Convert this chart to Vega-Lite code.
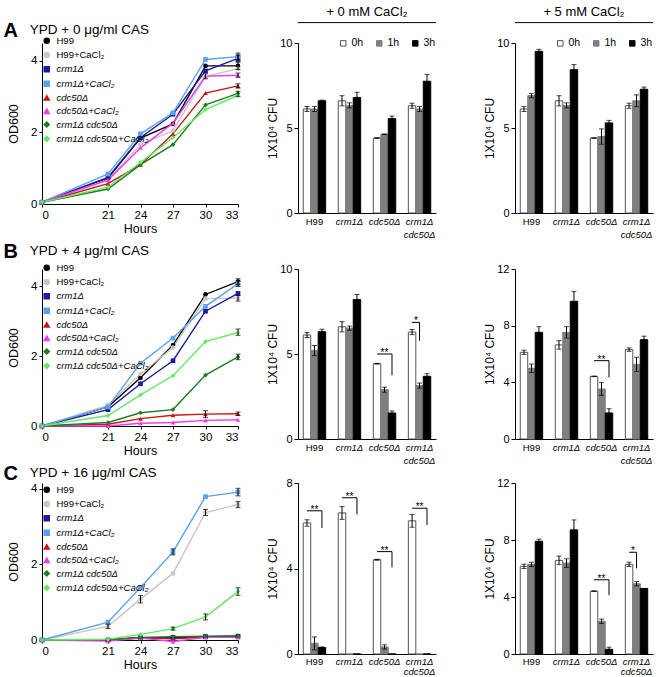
{
"$schema": "https://vega.github.io/schema/vega-lite/v6.json",
"background": "white",
"padding": {"left": 3, "top": 6, "right": 2, "bottom": 0},
"config": {
 "font": "Liberation Sans",
 "view": {"stroke": null},
 "axis": {"grid": false, "domainColor": "#000", "tickColor": "#000", "labelColor": "#000", "titleColor": "#000", "titleFontWeight": "normal", "labelFontSize": 11, "titleFontSize": 12, "tickSize": 3, "labelPadding": 2},
 "legend": {"labelColor": "#000", "padding": 0},
 "title": {"color": "#000"}
},
"datasets": {
 "lines": [
  {"c":0,"s":"H99","h":0,"v":0.05},{"c":0,"s":"H99","h":21,"v":0.72},{"c":0,"s":"H99","h":24,"v":1.84},{"c":0,"s":"H99","h":27,"v":2.24},{"c":0,"s":"H99","h":30,"v":3.86},{"c":0,"s":"H99","h":33,"v":3.86,"lo":3.76,"hi":3.96},
  {"c":0,"s":"H99+CaCl₂","h":0,"v":0.05},{"c":0,"s":"H99+CaCl₂","h":21,"v":0.68},{"c":0,"s":"H99+CaCl₂","h":24,"v":1.66},{"c":0,"s":"H99+CaCl₂","h":27,"v":2.05},{"c":0,"s":"H99+CaCl₂","h":30,"v":3.57},{"c":0,"s":"H99+CaCl₂","h":33,"v":3.78},
  {"c":0,"s":"crm1Δ","h":0,"v":0.05},{"c":0,"s":"crm1Δ","h":21,"v":0.74},{"c":0,"s":"crm1Δ","h":24,"v":1.86},{"c":0,"s":"crm1Δ","h":27,"v":2.51},{"c":0,"s":"crm1Δ","h":30,"v":3.72},{"c":0,"s":"crm1Δ","h":33,"v":4.07,"lo":3.98,"hi":4.16},
  {"c":0,"s":"crm1Δ+CaCl₂","h":0,"v":0.05},{"c":0,"s":"crm1Δ+CaCl₂","h":21,"v":0.84},{"c":0,"s":"crm1Δ+CaCl₂","h":24,"v":1.96},{"c":0,"s":"crm1Δ+CaCl₂","h":27,"v":2.55},{"c":0,"s":"crm1Δ+CaCl₂","h":30,"v":4.04},{"c":0,"s":"crm1Δ+CaCl₂","h":33,"v":4.12,"lo":4.02,"hi":4.22},
  {"c":0,"s":"cdc50Δ","h":0,"v":0.05},{"c":0,"s":"cdc50Δ","h":21,"v":0.57},{"c":0,"s":"cdc50Δ","h":24,"v":1.1},{"c":0,"s":"cdc50Δ","h":27,"v":1.96},{"c":0,"s":"cdc50Δ","h":30,"v":3.1},{"c":0,"s":"cdc50Δ","h":33,"v":3.3,"lo":3.24,"hi":3.36},
  {"c":0,"s":"cdc50Δ+CaCl₂","h":0,"v":0.05},{"c":0,"s":"cdc50Δ+CaCl₂","h":21,"v":0.67},{"c":0,"s":"cdc50Δ+CaCl₂","h":24,"v":1.57},{"c":0,"s":"cdc50Δ+CaCl₂","h":27,"v":2.26},{"c":0,"s":"cdc50Δ+CaCl₂","h":30,"v":3.57,"lo":3.5,"hi":3.64},{"c":0,"s":"cdc50Δ+CaCl₂","h":33,"v":3.6,"lo":3.54,"hi":3.66},
  {"c":0,"s":"crm1Δ cdc50Δ","h":0,"v":0.05},{"c":0,"s":"crm1Δ cdc50Δ","h":21,"v":0.42},{"c":0,"s":"crm1Δ cdc50Δ","h":24,"v":1.1},{"c":0,"s":"crm1Δ cdc50Δ","h":27,"v":1.66},{"c":0,"s":"crm1Δ cdc50Δ","h":30,"v":2.77},{"c":0,"s":"crm1Δ cdc50Δ","h":33,"v":3.09,"lo":3.0,"hi":3.15},
  {"c":0,"s":"crm1Δ cdc50Δ+CaCl₂","h":0,"v":0.05},{"c":0,"s":"crm1Δ cdc50Δ+CaCl₂","h":21,"v":0.47},{"c":0,"s":"crm1Δ cdc50Δ+CaCl₂","h":24,"v":1.16},{"c":0,"s":"crm1Δ cdc50Δ+CaCl₂","h":27,"v":1.86},{"c":0,"s":"crm1Δ cdc50Δ+CaCl₂","h":30,"v":2.64},{"c":0,"s":"crm1Δ cdc50Δ+CaCl₂","h":33,"v":3.04},

  {"c":4,"s":"H99","h":0,"v":0},{"c":4,"s":"H99","h":21,"v":0.55},{"c":4,"s":"H99","h":24,"v":1.38},{"c":4,"s":"H99","h":27,"v":2.32},{"c":4,"s":"H99","h":30,"v":3.77},{"c":4,"s":"H99","h":33,"v":4.14,"lo":4.06,"hi":4.22},
  {"c":4,"s":"H99+CaCl₂","h":0,"v":0},{"c":4,"s":"H99+CaCl₂","h":21,"v":0.6},{"c":4,"s":"H99+CaCl₂","h":24,"v":1.49},{"c":4,"s":"H99+CaCl₂","h":27,"v":2.25},{"c":4,"s":"H99+CaCl₂","h":30,"v":3.65},{"c":4,"s":"H99+CaCl₂","h":33,"v":3.66,"lo":3.58,"hi":3.74},
  {"c":4,"s":"crm1Δ","h":0,"v":0},{"c":4,"s":"crm1Δ","h":21,"v":0.47},{"c":4,"s":"crm1Δ","h":24,"v":1.21},{"c":4,"s":"crm1Δ","h":27,"v":1.87},{"c":4,"s":"crm1Δ","h":30,"v":3.29},{"c":4,"s":"crm1Δ","h":33,"v":3.8},
  {"c":4,"s":"crm1Δ+CaCl₂","h":0,"v":0},{"c":4,"s":"crm1Δ+CaCl₂","h":21,"v":0.55},{"c":4,"s":"crm1Δ+CaCl₂","h":24,"v":1.8},{"c":4,"s":"crm1Δ+CaCl₂","h":27,"v":2.52},{"c":4,"s":"crm1Δ+CaCl₂","h":30,"v":3.43},{"c":4,"s":"crm1Δ+CaCl₂","h":33,"v":4.08,"lo":4.0,"hi":4.16},
  {"c":4,"s":"cdc50Δ","h":0,"v":0},{"c":4,"s":"cdc50Δ","h":21,"v":0.05},{"c":4,"s":"cdc50Δ","h":24,"v":0.21},{"c":4,"s":"cdc50Δ","h":27,"v":0.31},{"c":4,"s":"cdc50Δ","h":30,"v":0.34,"lo":0.24,"hi":0.44},{"c":4,"s":"cdc50Δ","h":33,"v":0.35,"lo":0.3,"hi":0.4},
  {"c":4,"s":"cdc50Δ+CaCl₂","h":0,"v":0},{"c":4,"s":"cdc50Δ+CaCl₂","h":21,"v":0.0},{"c":4,"s":"cdc50Δ+CaCl₂","h":24,"v":0.08},{"c":4,"s":"cdc50Δ+CaCl₂","h":27,"v":0.1},{"c":4,"s":"cdc50Δ+CaCl₂","h":30,"v":0.16},{"c":4,"s":"cdc50Δ+CaCl₂","h":33,"v":0.18},
  {"c":4,"s":"crm1Δ cdc50Δ","h":0,"v":0},{"c":4,"s":"crm1Δ cdc50Δ","h":21,"v":0.1},{"c":4,"s":"crm1Δ cdc50Δ","h":24,"v":0.38},{"c":4,"s":"crm1Δ cdc50Δ","h":27,"v":0.47},{"c":4,"s":"crm1Δ cdc50Δ","h":30,"v":1.46},{"c":4,"s":"crm1Δ cdc50Δ","h":33,"v":1.98,"lo":1.9,"hi":2.06},
  {"c":4,"s":"crm1Δ cdc50Δ+CaCl₂","h":0,"v":0},{"c":4,"s":"crm1Δ cdc50Δ+CaCl₂","h":21,"v":0.3},{"c":4,"s":"crm1Δ cdc50Δ+CaCl₂","h":24,"v":0.89},{"c":4,"s":"crm1Δ cdc50Δ+CaCl₂","h":27,"v":1.44},{"c":4,"s":"crm1Δ cdc50Δ+CaCl₂","h":30,"v":2.42},{"c":4,"s":"crm1Δ cdc50Δ+CaCl₂","h":33,"v":2.68,"lo":2.6,"hi":2.78},

  {"c":16,"s":"H99","h":0,"v":0},{"c":16,"s":"H99","h":21,"v":0},{"c":16,"s":"H99","h":24,"v":0.06},{"c":16,"s":"H99","h":27,"v":0.06},{"c":16,"s":"H99","h":30,"v":0.09},{"c":16,"s":"H99","h":33,"v":0.1},
  {"c":16,"s":"H99+CaCl₂","h":0,"v":0},{"c":16,"s":"H99+CaCl₂","h":21,"v":0.36,"lo":0.3,"hi":0.42},{"c":16,"s":"H99+CaCl₂","h":24,"v":1.08,"lo":0.98,"hi":1.18},{"c":16,"s":"H99+CaCl₂","h":27,"v":1.76},{"c":16,"s":"H99+CaCl₂","h":30,"v":3.37,"lo":3.29,"hi":3.45},{"c":16,"s":"H99+CaCl₂","h":33,"v":3.58,"lo":3.5,"hi":3.66},
  {"c":16,"s":"crm1Δ","h":0,"v":0},{"c":16,"s":"crm1Δ","h":21,"v":0},{"c":16,"s":"crm1Δ","h":24,"v":0.06},{"c":16,"s":"crm1Δ","h":27,"v":0.07},{"c":16,"s":"crm1Δ","h":30,"v":0.09},{"c":16,"s":"crm1Δ","h":33,"v":0.1},
  {"c":16,"s":"crm1Δ+CaCl₂","h":0,"v":0},{"c":16,"s":"crm1Δ+CaCl₂","h":21,"v":0.47},{"c":16,"s":"crm1Δ+CaCl₂","h":24,"v":1.39},{"c":16,"s":"crm1Δ+CaCl₂","h":27,"v":2.33,"lo":2.25,"hi":2.41},{"c":16,"s":"crm1Δ+CaCl₂","h":30,"v":3.79},{"c":16,"s":"crm1Δ+CaCl₂","h":33,"v":3.91,"lo":3.81,"hi":4.01},
  {"c":16,"s":"cdc50Δ","h":0,"v":0},{"c":16,"s":"cdc50Δ","h":21,"v":0},{"c":16,"s":"cdc50Δ","h":24,"v":0.06},{"c":16,"s":"cdc50Δ","h":27,"v":0.03},{"c":16,"s":"cdc50Δ","h":30,"v":0.08},{"c":16,"s":"cdc50Δ","h":33,"v":0.09},
  {"c":16,"s":"cdc50Δ+CaCl₂","h":0,"v":0},{"c":16,"s":"cdc50Δ+CaCl₂","h":21,"v":-0.03},{"c":16,"s":"cdc50Δ+CaCl₂","h":24,"v":0.05},{"c":16,"s":"cdc50Δ+CaCl₂","h":27,"v":-0.04},{"c":16,"s":"cdc50Δ+CaCl₂","h":30,"v":0.07},{"c":16,"s":"cdc50Δ+CaCl₂","h":33,"v":0.07},
  {"c":16,"s":"crm1Δ cdc50Δ","h":0,"v":0},{"c":16,"s":"crm1Δ cdc50Δ","h":21,"v":0.01},{"c":16,"s":"crm1Δ cdc50Δ","h":24,"v":0.07},{"c":16,"s":"crm1Δ cdc50Δ","h":27,"v":0.09},{"c":16,"s":"crm1Δ cdc50Δ","h":30,"v":0.1},{"c":16,"s":"crm1Δ cdc50Δ","h":33,"v":0.1},
  {"c":16,"s":"crm1Δ cdc50Δ+CaCl₂","h":0,"v":0},{"c":16,"s":"crm1Δ cdc50Δ+CaCl₂","h":21,"v":0.02},{"c":16,"s":"crm1Δ cdc50Δ+CaCl₂","h":24,"v":0.15},{"c":16,"s":"crm1Δ cdc50Δ+CaCl₂","h":27,"v":0.3,"lo":0.26,"hi":0.34},{"c":16,"s":"crm1Δ cdc50Δ+CaCl₂","h":30,"v":0.61,"lo":0.53,"hi":0.69},{"c":16,"s":"crm1Δ cdc50Δ+CaCl₂","h":33,"v":1.28,"lo":1.18,"hi":1.38}
 ],
 "bars": [
  {"c":0,"m":0,"s":"H99","t":"0h","v":6.12,"lo":5.97,"hi":6.27},{"c":0,"m":0,"s":"H99","t":"1h","v":6.12,"lo":5.97,"hi":6.27},{"c":0,"m":0,"s":"H99","t":"3h","v":6.6,"lo":6.56,"hi":6.64},
  {"c":0,"m":0,"s":"crm1Δ","t":"0h","v":6.6,"lo":6.3,"hi":6.9},{"c":0,"m":0,"s":"crm1Δ","t":"1h","v":6.33,"lo":6.18,"hi":6.48},{"c":0,"m":0,"s":"crm1Δ","t":"3h","v":6.8,"lo":6.5,"hi":7.1},
  {"c":0,"m":0,"s":"cdc50Δ","t":"0h","v":4.41,"lo":4.39,"hi":4.43},{"c":0,"m":0,"s":"cdc50Δ","t":"1h","v":4.63,"lo":4.61,"hi":4.65},{"c":0,"m":0,"s":"cdc50Δ","t":"3h","v":5.55,"lo":5.4,"hi":5.7},
  {"c":0,"m":0,"s":"crm1Δ cdc50Δ","t":"0h","v":6.31,"lo":6.16,"hi":6.46},{"c":0,"m":0,"s":"crm1Δ cdc50Δ","t":"1h","v":6.12,"lo":5.97,"hi":6.27},{"c":0,"m":0,"s":"crm1Δ cdc50Δ","t":"3h","v":7.75,"lo":7.35,"hi":8.15},
  {"c":0,"m":5,"s":"H99","t":"0h","v":6.12,"lo":5.97,"hi":6.27},{"c":0,"m":5,"s":"H99","t":"1h","v":6.9,"lo":6.78,"hi":7.02},{"c":0,"m":5,"s":"H99","t":"3h","v":9.51,"lo":9.39,"hi":9.63},
  {"c":0,"m":5,"s":"crm1Δ","t":"0h","v":6.6,"lo":6.3,"hi":6.9},{"c":0,"m":5,"s":"crm1Δ","t":"1h","v":6.33,"lo":6.18,"hi":6.48},{"c":0,"m":5,"s":"crm1Δ","t":"3h","v":8.43,"lo":8.13,"hi":8.73},
  {"c":0,"m":5,"s":"cdc50Δ","t":"0h","v":4.41,"lo":4.39,"hi":4.43},{"c":0,"m":5,"s":"cdc50Δ","t":"1h","v":4.5,"lo":4.05,"hi":4.95},{"c":0,"m":5,"s":"cdc50Δ","t":"3h","v":5.3,"lo":5.15,"hi":5.45},
  {"c":0,"m":5,"s":"crm1Δ cdc50Δ","t":"0h","v":6.31,"lo":6.16,"hi":6.46},{"c":0,"m":5,"s":"crm1Δ cdc50Δ","t":"1h","v":6.6,"lo":6.25,"hi":6.95},{"c":0,"m":5,"s":"crm1Δ cdc50Δ","t":"3h","v":7.28,"lo":7.15,"hi":7.41},
  {"c":4,"m":0,"s":"H99","t":"0h","v":6.12,"lo":5.97,"hi":6.27},{"c":4,"m":0,"s":"H99","t":"1h","v":5.2,"lo":4.9,"hi":5.5},{"c":4,"m":0,"s":"H99","t":"3h","v":6.31,"lo":6.16,"hi":6.46},
  {"c":4,"m":0,"s":"crm1Δ","t":"0h","v":6.6,"lo":6.3,"hi":6.9},{"c":4,"m":0,"s":"crm1Δ","t":"1h","v":6.52,"lo":6.4,"hi":6.64},{"c":4,"m":0,"s":"crm1Δ","t":"3h","v":8.2,"lo":7.9,"hi":8.5},
  {"c":4,"m":0,"s":"cdc50Δ","t":"0h","v":4.43,"lo":4.41,"hi":4.45},{"c":4,"m":0,"s":"cdc50Δ","t":"1h","v":2.9,"lo":2.75,"hi":3.05},{"c":4,"m":0,"s":"cdc50Δ","t":"3h","v":1.53,"lo":1.41,"hi":1.65},
  {"c":4,"m":0,"s":"crm1Δ cdc50Δ","t":"0h","v":6.29,"lo":6.14,"hi":6.44},{"c":4,"m":0,"s":"crm1Δ cdc50Δ","t":"1h","v":3.14,"lo":2.99,"hi":3.29},{"c":4,"m":0,"s":"crm1Δ cdc50Δ","t":"3h","v":3.69,"lo":3.54,"hi":3.84},
  {"c":4,"m":5,"s":"H99","t":"0h","v":6.12,"lo":5.97,"hi":6.27},{"c":4,"m":5,"s":"H99","t":"1h","v":4.99,"lo":4.69,"hi":5.29},{"c":4,"m":5,"s":"H99","t":"3h","v":7.53,"lo":7.13,"hi":7.93},
  {"c":4,"m":5,"s":"crm1Δ","t":"0h","v":6.64,"lo":6.34,"hi":6.94},{"c":4,"m":5,"s":"crm1Δ","t":"1h","v":7.53,"lo":7.13,"hi":7.93},{"c":4,"m":5,"s":"crm1Δ","t":"3h","v":9.72,"lo":9.02,"hi":10.42},
  {"c":4,"m":5,"s":"cdc50Δ","t":"0h","v":4.42,"lo":4.4,"hi":4.44},{"c":4,"m":5,"s":"cdc50Δ","t":"1h","v":3.53,"lo":3.08,"hi":3.98},{"c":4,"m":5,"s":"cdc50Δ","t":"3h","v":1.84,"lo":1.54,"hi":2.14},
  {"c":4,"m":5,"s":"crm1Δ cdc50Δ","t":"0h","v":6.31,"lo":6.19,"hi":6.43},{"c":4,"m":5,"s":"crm1Δ cdc50Δ","t":"1h","v":5.27,"lo":4.77,"hi":5.77},{"c":4,"m":5,"s":"crm1Δ cdc50Δ","t":"3h","v":7.01,"lo":6.76,"hi":7.26},
  {"c":16,"m":0,"s":"H99","t":"0h","v":6.13,"lo":5.98,"hi":6.28},{"c":16,"m":0,"s":"H99","t":"1h","v":0.5,"lo":0.2,"hi":0.8},{"c":16,"m":0,"s":"H99","t":"3h","v":0.3,"lo":0.27,"hi":0.33},
  {"c":16,"m":0,"s":"crm1Δ","t":"0h","v":6.6,"lo":6.3,"hi":6.9},{"c":16,"m":0,"s":"crm1Δ","t":"1h","v":0},{"c":16,"m":0,"s":"crm1Δ","t":"3h","v":0},
  {"c":16,"m":0,"s":"cdc50Δ","t":"0h","v":4.41,"lo":4.39,"hi":4.43},{"c":16,"m":0,"s":"cdc50Δ","t":"1h","v":0.33,"lo":0.23,"hi":0.43},{"c":16,"m":0,"s":"cdc50Δ","t":"3h","v":0},
  {"c":16,"m":0,"s":"crm1Δ cdc50Δ","t":"0h","v":6.23,"lo":5.93,"hi":6.53},{"c":16,"m":0,"s":"crm1Δ cdc50Δ","t":"1h","v":0},{"c":16,"m":0,"s":"crm1Δ cdc50Δ","t":"3h","v":0},
  {"c":16,"m":5,"s":"H99","t":"0h","v":6.15,"lo":6.0,"hi":6.3},{"c":16,"m":5,"s":"H99","t":"1h","v":6.29,"lo":6.14,"hi":6.44},{"c":16,"m":5,"s":"H99","t":"3h","v":7.91,"lo":7.76,"hi":8.06},
  {"c":16,"m":5,"s":"crm1Δ","t":"0h","v":6.57,"lo":6.27,"hi":6.87},{"c":16,"m":5,"s":"crm1Δ","t":"1h","v":6.38,"lo":6.08,"hi":6.68},{"c":16,"m":5,"s":"crm1Δ","t":"3h","v":8.71,"lo":8.01,"hi":9.41},
  {"c":16,"m":5,"s":"cdc50Δ","t":"0h","v":4.41,"lo":4.39,"hi":4.43},{"c":16,"m":5,"s":"cdc50Δ","t":"1h","v":2.3,"lo":2.15,"hi":2.45},{"c":16,"m":5,"s":"cdc50Δ","t":"3h","v":0.33,"lo":0.18,"hi":0.48},
  {"c":16,"m":5,"s":"crm1Δ cdc50Δ","t":"0h","v":6.29,"lo":6.14,"hi":6.44},{"c":16,"m":5,"s":"crm1Δ cdc50Δ","t":"1h","v":4.93,"lo":4.78,"hi":5.08},{"c":16,"m":5,"s":"crm1Δ cdc50Δ","t":"3h","v":4.6}
 ],
 "brackets": [
  {"c":4,"m":0,"b":"b1","s":"cdc50Δ","t":"0h","v":5.0,"o":0},{"c":4,"m":0,"b":"b1","s":"cdc50Δ","t":"3h","v":5.0,"o":1},{"c":4,"m":0,"b":"b1","s":"cdc50Δ","t":"3h","v":3.75,"o":2},
  {"c":4,"m":0,"b":"b2","s":"crm1Δ cdc50Δ","t":"0h","v":6.86,"o":0},{"c":4,"m":0,"b":"b2","s":"crm1Δ cdc50Δ","t":"1h","v":6.86,"o":1},{"c":4,"m":0,"b":"b2","s":"crm1Δ cdc50Δ","t":"1h","v":5.78,"o":2},
  {"c":4,"m":5,"b":"b3","s":"cdc50Δ","t":"0h","v":5.53,"o":0},{"c":4,"m":5,"b":"b3","s":"cdc50Δ","t":"3h","v":5.53,"o":1},{"c":4,"m":5,"b":"b3","s":"cdc50Δ","t":"3h","v":4.35,"o":2},
  {"c":16,"m":0,"b":"b4","s":"H99","t":"0h","v":6.7,"o":0},{"c":16,"m":0,"b":"b4","s":"H99","t":"3h","v":6.7,"o":1},{"c":16,"m":0,"b":"b4","s":"H99","t":"3h","v":5.9,"o":2},
  {"c":16,"m":0,"b":"b5","s":"crm1Δ","t":"0h","v":7.31,"o":0},{"c":16,"m":0,"b":"b5","s":"crm1Δ","t":"3h","v":7.31,"o":1},{"c":16,"m":0,"b":"b5","s":"crm1Δ","t":"3h","v":6.53,"o":2},
  {"c":16,"m":0,"b":"b6","s":"cdc50Δ","t":"0h","v":4.79,"o":0},{"c":16,"m":0,"b":"b6","s":"cdc50Δ","t":"3h","v":4.79,"o":1},{"c":16,"m":0,"b":"b6","s":"cdc50Δ","t":"3h","v":4.05,"o":2},
  {"c":16,"m":0,"b":"b7","s":"crm1Δ cdc50Δ","t":"0h","v":6.82,"o":0},{"c":16,"m":0,"b":"b7","s":"crm1Δ cdc50Δ","t":"3h","v":6.82,"o":1},{"c":16,"m":0,"b":"b7","s":"crm1Δ cdc50Δ","t":"3h","v":6.04,"o":2},
  {"c":16,"m":5,"b":"b8","s":"cdc50Δ","t":"0h","v":5.21,"o":0},{"c":16,"m":5,"b":"b8","s":"cdc50Δ","t":"3h","v":5.21,"o":1},{"c":16,"m":5,"b":"b8","s":"cdc50Δ","t":"3h","v":4.13,"o":2},
  {"c":16,"m":5,"b":"b9","s":"crm1Δ cdc50Δ","t":"0h","v":7.14,"o":0},{"c":16,"m":5,"b":"b9","s":"crm1Δ cdc50Δ","t":"1h","v":7.14,"o":1},{"c":16,"m":5,"b":"b9","s":"crm1Δ cdc50Δ","t":"1h","v":6.01,"o":2}
 ],
 "stars": [
  {"c":4,"m":0,"s":"cdc50Δ","t":"1h","v":5.0,"lab":"**"},{"c":4,"m":0,"s":"crm1Δ cdc50Δ","t":"0h","v":6.86,"lab":"*"},
  {"c":4,"m":5,"s":"cdc50Δ","t":"1h","v":5.53,"lab":"**"},
  {"c":16,"m":0,"s":"H99","t":"1h","v":6.7,"lab":"**"},{"c":16,"m":0,"s":"crm1Δ","t":"1h","v":7.31,"lab":"**"},{"c":16,"m":0,"s":"cdc50Δ","t":"1h","v":4.79,"lab":"**"},{"c":16,"m":0,"s":"crm1Δ cdc50Δ","t":"1h","v":6.82,"lab":"**"},
  {"c":16,"m":5,"s":"cdc50Δ","t":"1h","v":5.21,"lab":"**"},{"c":16,"m":5,"s":"crm1Δ cdc50Δ","t":"0h","v":7.14,"lab":"*"}
 ]
},
"spacing": 3,
"resolve": {"scale": {"x": "independent", "y": "independent", "color": "independent", "shape": "independent", "fill": "independent", "stroke": "independent"}, "legend": {"color": "independent", "shape": "independent", "fill": "independent", "stroke": "independent"}},
"vconcat": [
 {
  "hconcat": [
   {
    "width": 177, "height": 161,
    "title": {"text": "A", "subtitle": "\u200b\u00a0\u00a0\u00a0\u00a0\u00a0\u00a0\u00a0YPD + 0 μg/ml CAS", "anchor": "start", "fontSize": 20, "fontWeight": "bold", "subtitleFontSize": 13.5, "subtitleColor": "#000", "subtitlePadding": -18, "offset": -5, "dx": -4},
    "data": {"name": "lines"},
    "transform": [{"filter": "datum.c == 0"}],
    "encoding": {
     "x": {"field": "h", "type": "quantitative", "scale": {"domain": [0,21,33], "range": [0,66,196], "nice": false, "zero": false}, "axis": {"values": [0,21,24,27,30,33], "title": "Hours", "titleFontSize": 12.5, "titlePadding": 2, "labelFontSize": 11.5}},
     "y": {"field": "v", "type": "quantitative", "scale": {"domain": [0,4.5]}, "axis": {"values": [0,2,4], "title": "OD600", "titleFontSize": 12.5, "labelFontSize": 11.5, "minExtent": 12, "maxExtent": 12, "titlePadding": 9.5}}
    },
    "layer": [
     {"mark": {"type": "line", "strokeWidth": 1.4}, "encoding": {"color": {"field": "s", "type": "nominal", "scale": {"domain": ["H99","H99+CaCl₂","crm1Δ","crm1Δ+CaCl₂","cdc50Δ","cdc50Δ+CaCl₂","crm1Δ cdc50Δ","crm1Δ cdc50Δ+CaCl₂"], "range": ["#000000","#c8c8c8","#1b1b9e","#5aa2ea","#c81414","#f03cf0","#1e7d1e","#62e862"]}, "legend": {"title": null, "orient": "none", "legendX": 0, "legendY": -7, "labelFontSize": 9.5, "symbolSize": 25, "rowPadding": 2.3, "labelOffset": 5, "labelFontStyle": {"expr": "indexof(datum.label, 'Δ') >= 0 ? 'italic' : 'normal'"}}}}},
     {"mark": {"type": "point", "filled": true, "size": 22, "opacity": 1}, "encoding": {"color": {"field": "s", "type": "nominal", "scale": {"domain": ["H99","H99+CaCl₂","crm1Δ","crm1Δ+CaCl₂","cdc50Δ","cdc50Δ+CaCl₂","crm1Δ cdc50Δ","crm1Δ cdc50Δ+CaCl₂"], "range": ["#000000","#c8c8c8","#1b1b9e","#5aa2ea","#c81414","#f03cf0","#1e7d1e","#62e862"]}, "legend": {"title": null, "orient": "none", "legendX": 0, "legendY": -7, "labelFontSize": 9.5, "symbolSize": 25, "rowPadding": 2.3, "labelOffset": 5, "labelFontStyle": {"expr": "indexof(datum.label, 'Δ') >= 0 ? 'italic' : 'normal'"}}}, "shape": {"field": "s", "type": "nominal", "scale": {"domain": ["H99","H99+CaCl₂","crm1Δ","crm1Δ+CaCl₂","cdc50Δ","cdc50Δ+CaCl₂","crm1Δ cdc50Δ","crm1Δ cdc50Δ+CaCl₂"], "range": ["circle","circle","square","square","triangle-up","triangle-up","diamond","diamond"]}, "legend": {"title": null, "orient": "none", "legendX": 0, "legendY": -7, "labelFontSize": 9.5, "symbolSize": 25, "rowPadding": 2.3, "labelOffset": 5, "labelFontStyle": {"expr": "indexof(datum.label, 'Δ') >= 0 ? 'italic' : 'normal'"}}}}},
     {"transform": [{"filter": "isValid(datum.lo)"}], "mark": {"type": "rule", "color": "#000"}, "encoding": {"y": {"field": "lo", "type": "quantitative", "title": "OD600"}, "y2": {"field": "hi"}}},
     {"transform": [{"filter": "isValid(datum.lo)"}], "mark": {"type": "tick", "orient": "horizontal", "color": "#000", "size": 5, "thickness": 1}, "encoding": {"y": {"field": "lo", "type": "quantitative", "title": "OD600"}}},
     {"transform": [{"filter": "isValid(datum.lo)"}], "mark": {"type": "tick", "orient": "horizontal", "color": "#000", "size": 5, "thickness": 1}, "encoding": {"y": {"field": "hi", "type": "quantitative", "title": "OD600"}}}
    ]
   },
   {
    "width": 138, "height": 170,
    "title": {"text": "+ 0 mM CaCl₂", "fontSize": 13, "fontWeight": "normal", "offset": 3},
    "layer": [
     {
      "encoding": {
       "x": {"field": "s", "type": "nominal", "sort": ["H99","crm1Δ","cdc50Δ","crm1Δ cdc50Δ"], "scale": {"paddingInner": 0.36, "paddingOuter": 0.15}, "axis": {"title": null, "ticks": false, "labelAngle": 0, "labelFontSize": 9.5, "labelPadding": 3, "labelLineHeight": 13.5, "labelExpr": "datum.value == 'crm1Δ cdc50Δ' ? ['crm1Δ', 'cdc50Δ'] : datum.value", "labelFontStyle": {"condition": {"test": "datum.value == 'H99'", "value": "normal"}, "value": "italic"}}},
       "xOffset": {"field": "t", "type": "nominal", "sort": ["0h","1h","3h"]}
      },
      "layer": [
       {"data": {"name": "bars"}, "transform": [{"filter": "datum.c == 0 && datum.m == 0"}], "mark": {"type": "bar", "strokeWidth": 1}, "encoding": {"y": {"field": "v", "type": "quantitative", "scale": {"domain": [0,10]}, "axis": {"values": [0,5,10], "title": "1X10⁴ CFU", "minExtent": 17, "maxExtent": 17, "titlePadding": 2, "tickSize": 4}}, "fill": {"field": "t", "type": "nominal", "scale": {"domain": ["0h","1h","3h"], "range": ["#ffffff","#7f7f7f","#000000"]}, "legend": {"title": null, "orient": "none", "legendX": 40, "legendY": -5, "direction": "horizontal", "symbolType": "square", "symbolSize": 30, "labelFontSize": 10.5, "labelOffset": 3, "columnPadding": 10, "symbolStrokeWidth": 1}}, "stroke": {"field": "t", "type": "nominal", "scale": {"domain": ["0h","1h","3h"], "range": ["#555555","#7f7f7f","#000000"]}, "legend": {"title": null, "orient": "none", "legendX": 40, "legendY": -5, "direction": "horizontal", "symbolType": "square", "symbolSize": 30, "labelFontSize": 10.5, "labelOffset": 3, "columnPadding": 10, "symbolStrokeWidth": 1}}}},
       {"data": {"name": "bars"}, "transform": [{"filter": "datum.c == 0 && datum.m == 0 && isValid(datum.lo)"}], "mark": {"type": "rule", "color": "#000"}, "encoding": {"y": {"field": "lo", "type": "quantitative", "title": "1X10⁴ CFU"}, "y2": {"field": "hi"}}},
       {"data": {"name": "bars"}, "transform": [{"filter": "datum.c == 0 && datum.m == 0 && isValid(datum.lo)"}], "mark": {"type": "tick", "color": "#000", "size": 5, "thickness": 1}, "encoding": {"y": {"field": "lo", "type": "quantitative", "title": "1X10⁴ CFU"}}},
       {"data": {"name": "bars"}, "transform": [{"filter": "datum.c == 0 && datum.m == 0 && isValid(datum.lo)"}], "mark": {"type": "tick", "color": "#000", "size": 5, "thickness": 1}, "encoding": {"y": {"field": "hi", "type": "quantitative", "title": "1X10⁴ CFU"}}}
      ]
     },
     {"data": {"values": [{}]}, "mark": {"type": "rule", "color": "#000", "strokeWidth": 1}, "encoding": {"y": {"datum": 11.2, "type": "quantitative"}}}
    ]
   },
   {
    "width": 138, "height": 170,
    "title": {"text": "+ 5 mM CaCl₂", "fontSize": 13, "fontWeight": "normal", "offset": 3},
    "layer": [
     {
      "encoding": {
       "x": {"field": "s", "type": "nominal", "sort": ["H99","crm1Δ","cdc50Δ","crm1Δ cdc50Δ"], "scale": {"paddingInner": 0.36, "paddingOuter": 0.15}, "axis": {"title": null, "ticks": false, "labelAngle": 0, "labelFontSize": 9.5, "labelPadding": 3, "labelLineHeight": 13.5, "labelExpr": "datum.value == 'crm1Δ cdc50Δ' ? ['crm1Δ', 'cdc50Δ'] : datum.value", "labelFontStyle": {"condition": {"test": "datum.value == 'H99'", "value": "normal"}, "value": "italic"}}},
       "xOffset": {"field": "t", "type": "nominal", "sort": ["0h","1h","3h"]}
      },
      "layer": [
       {"data": {"name": "bars"}, "transform": [{"filter": "datum.c == 0 && datum.m == 5"}], "mark": {"type": "bar", "strokeWidth": 1}, "encoding": {"y": {"field": "v", "type": "quantitative", "scale": {"domain": [0,10]}, "axis": {"values": [0,5,10], "title": "1X10⁴ CFU", "minExtent": 17, "maxExtent": 17, "titlePadding": 2, "tickSize": 4}}, "fill": {"field": "t", "type": "nominal", "scale": {"domain": ["0h","1h","3h"], "range": ["#ffffff","#7f7f7f","#000000"]}, "legend": {"title": null, "orient": "none", "legendX": 40, "legendY": -5, "direction": "horizontal", "symbolType": "square", "symbolSize": 30, "labelFontSize": 10.5, "labelOffset": 3, "columnPadding": 10, "symbolStrokeWidth": 1}}, "stroke": {"field": "t", "type": "nominal", "scale": {"domain": ["0h","1h","3h"], "range": ["#555555","#7f7f7f","#000000"]}, "legend": {"title": null, "orient": "none", "legendX": 40, "legendY": -5, "direction": "horizontal", "symbolType": "square", "symbolSize": 30, "labelFontSize": 10.5, "labelOffset": 3, "columnPadding": 10, "symbolStrokeWidth": 1}}}},
       {"data": {"name": "bars"}, "transform": [{"filter": "datum.c == 0 && datum.m == 5 && isValid(datum.lo)"}], "mark": {"type": "rule", "color": "#000"}, "encoding": {"y": {"field": "lo", "type": "quantitative", "title": "1X10⁴ CFU"}, "y2": {"field": "hi"}}},
       {"data": {"name": "bars"}, "transform": [{"filter": "datum.c == 0 && datum.m == 5 && isValid(datum.lo)"}], "mark": {"type": "tick", "color": "#000", "size": 5, "thickness": 1}, "encoding": {"y": {"field": "lo", "type": "quantitative", "title": "1X10⁴ CFU"}}},
       {"data": {"name": "bars"}, "transform": [{"filter": "datum.c == 0 && datum.m == 5 && isValid(datum.lo)"}], "mark": {"type": "tick", "color": "#000", "size": 5, "thickness": 1}, "encoding": {"y": {"field": "hi", "type": "quantitative", "title": "1X10⁴ CFU"}}}
      ]
     },
     {"data": {"values": [{}]}, "mark": {"type": "rule", "color": "#000", "strokeWidth": 1}, "encoding": {"y": {"datum": 11.2, "type": "quantitative"}}}
    ]
   }
  ],
  "spacing": 79,
  "bounds": "flush",
  "resolve": {"scale": {"x": "independent", "y": "independent", "color": "independent", "shape": "independent", "fill": "independent", "stroke": "independent"}, "legend": {"color": "independent", "shape": "independent", "fill": "independent", "stroke": "independent"}}
 },
 {
 "spacing": -2,
 "resolve": {"scale": {"x": "independent", "y": "independent", "color": "independent", "shape": "independent", "fill": "independent", "stroke": "independent"}, "legend": {"color": "independent", "shape": "independent", "fill": "independent", "stroke": "independent"}},
 "vconcat": [
 {
  "hconcat": [
   {
    "width": 177, "height": 157,
    "title": {"text": "B", "subtitle": "\u200b\u00a0\u00a0\u00a0\u00a0\u00a0\u00a0\u00a0YPD + 4 μg/ml CAS", "anchor": "start", "fontSize": 20, "fontWeight": "bold", "subtitleFontSize": 13.5, "subtitleColor": "#000", "subtitlePadding": -18, "offset": 1, "dx": -4},
    "data": {"name": "lines"},
    "transform": [{"filter": "datum.c == 4"}],
    "encoding": {
     "x": {"field": "h", "type": "quantitative", "scale": {"domain": [0,21,33], "range": [0,66,196], "nice": false, "zero": false}, "axis": {"values": [0,21,24,27,30,33], "title": "Hours", "titleFontSize": 12.5, "titlePadding": 2, "labelFontSize": 11.5}},
     "y": {"field": "v", "type": "quantitative", "scale": {"domain": [0,4.5]}, "axis": {"values": [0,2,4], "title": "OD600", "titleFontSize": 12.5, "labelFontSize": 11.5, "minExtent": 12, "maxExtent": 12, "titlePadding": 9.5}}
    },
    "layer": [
     {"mark": {"type": "line", "strokeWidth": 1.4}, "encoding": {"color": {"field": "s", "type": "nominal", "scale": {"domain": ["H99","H99+CaCl₂","crm1Δ","crm1Δ+CaCl₂","cdc50Δ","cdc50Δ+CaCl₂","crm1Δ cdc50Δ","crm1Δ cdc50Δ+CaCl₂"], "range": ["#000000","#c8c8c8","#1b1b9e","#5aa2ea","#c81414","#f03cf0","#1e7d1e","#62e862"]}, "legend": {"title": null, "orient": "none", "legendX": 0, "legendY": -6, "labelFontSize": 9.5, "symbolSize": 25, "rowPadding": 2.3, "labelOffset": 5, "labelFontStyle": {"expr": "indexof(datum.label, 'Δ') >= 0 ? 'italic' : 'normal'"}}}}},
     {"mark": {"type": "point", "filled": true, "size": 22, "opacity": 1}, "encoding": {"color": {"field": "s", "type": "nominal", "scale": {"domain": ["H99","H99+CaCl₂","crm1Δ","crm1Δ+CaCl₂","cdc50Δ","cdc50Δ+CaCl₂","crm1Δ cdc50Δ","crm1Δ cdc50Δ+CaCl₂"], "range": ["#000000","#c8c8c8","#1b1b9e","#5aa2ea","#c81414","#f03cf0","#1e7d1e","#62e862"]}, "legend": {"title": null, "orient": "none", "legendX": 0, "legendY": -6, "labelFontSize": 9.5, "symbolSize": 25, "rowPadding": 2.3, "labelOffset": 5, "labelFontStyle": {"expr": "indexof(datum.label, 'Δ') >= 0 ? 'italic' : 'normal'"}}}, "shape": {"field": "s", "type": "nominal", "scale": {"domain": ["H99","H99+CaCl₂","crm1Δ","crm1Δ+CaCl₂","cdc50Δ","cdc50Δ+CaCl₂","crm1Δ cdc50Δ","crm1Δ cdc50Δ+CaCl₂"], "range": ["circle","circle","square","square","triangle-up","triangle-up","diamond","diamond"]}, "legend": {"title": null, "orient": "none", "legendX": 0, "legendY": -6, "labelFontSize": 9.5, "symbolSize": 25, "rowPadding": 2.3, "labelOffset": 5, "labelFontStyle": {"expr": "indexof(datum.label, 'Δ') >= 0 ? 'italic' : 'normal'"}}}}},
     {"transform": [{"filter": "isValid(datum.lo)"}], "mark": {"type": "rule", "color": "#000"}, "encoding": {"y": {"field": "lo", "type": "quantitative", "title": "OD600"}, "y2": {"field": "hi"}}},
     {"transform": [{"filter": "isValid(datum.lo)"}], "mark": {"type": "tick", "orient": "horizontal", "color": "#000", "size": 5, "thickness": 1}, "encoding": {"y": {"field": "lo", "type": "quantitative", "title": "OD600"}}},
     {"transform": [{"filter": "isValid(datum.lo)"}], "mark": {"type": "tick", "orient": "horizontal", "color": "#000", "size": 5, "thickness": 1}, "encoding": {"y": {"field": "hi", "type": "quantitative", "title": "OD600"}}}
    ]
   },
   {
    "width": 138, "height": 170,
    "layer": [
     {
      "encoding": {
       "x": {"field": "s", "type": "nominal", "sort": ["H99","crm1Δ","cdc50Δ","crm1Δ cdc50Δ"], "scale": {"paddingInner": 0.36, "paddingOuter": 0.15}, "axis": {"title": null, "ticks": false, "labelAngle": 0, "labelFontSize": 9.5, "labelPadding": 3, "labelLineHeight": 13.5, "labelExpr": "datum.value == 'crm1Δ cdc50Δ' ? ['crm1Δ', 'cdc50Δ'] : datum.value", "labelFontStyle": {"condition": {"test": "datum.value == 'H99'", "value": "normal"}, "value": "italic"}}},
       "xOffset": {"field": "t", "type": "nominal", "sort": ["0h","1h","3h"]}
      },
      "layer": [
       {"data": {"name": "bars"}, "transform": [{"filter": "datum.c == 4 && datum.m == 0"}], "mark": {"type": "bar", "strokeWidth": 1}, "encoding": {"y": {"field": "v", "type": "quantitative", "scale": {"domain": [0,10]}, "axis": {"values": [0,5,10], "title": "1X10⁴ CFU", "minExtent": 17, "maxExtent": 17, "titlePadding": 2, "tickSize": 4}}, "fill": {"field": "t", "type": "nominal", "scale": {"domain": ["0h","1h","3h"], "range": ["#ffffff","#7f7f7f","#000000"]}, "legend": null}, "stroke": {"field": "t", "type": "nominal", "scale": {"domain": ["0h","1h","3h"], "range": ["#555555","#7f7f7f","#000000"]}, "legend": null}}},
       {"data": {"name": "bars"}, "transform": [{"filter": "datum.c == 4 && datum.m == 0 && isValid(datum.lo)"}], "mark": {"type": "rule", "color": "#000"}, "encoding": {"y": {"field": "lo", "type": "quantitative", "title": "1X10⁴ CFU"}, "y2": {"field": "hi"}}},
       {"data": {"name": "bars"}, "transform": [{"filter": "datum.c == 4 && datum.m == 0 && isValid(datum.lo)"}], "mark": {"type": "tick", "color": "#000", "size": 5, "thickness": 1}, "encoding": {"y": {"field": "lo", "type": "quantitative", "title": "1X10⁴ CFU"}}},
       {"data": {"name": "bars"}, "transform": [{"filter": "datum.c == 4 && datum.m == 0 && isValid(datum.lo)"}], "mark": {"type": "tick", "color": "#000", "size": 5, "thickness": 1}, "encoding": {"y": {"field": "hi", "type": "quantitative", "title": "1X10⁴ CFU"}}},
       {"data": {"name": "brackets"}, "transform": [{"filter": "datum.c == 4 && datum.m == 0"}], "mark": {"type": "line", "color": "#000", "strokeWidth": 1}, "encoding": {"y": {"field": "v", "type": "quantitative", "title": "1X10⁴ CFU"}, "detail": {"field": "b"}, "order": {"field": "o"}}},
       {"data": {"name": "stars"}, "transform": [{"filter": "datum.c == 4 && datum.m == 0 && datum.lab == '**'"}], "mark": {"type": "text", "fontSize": 10, "baseline": "alphabetic", "dy": 2}, "encoding": {"y": {"field": "v", "type": "quantitative", "title": "1X10⁴ CFU"}, "text": {"field": "lab"}}},
       {"data": {"name": "stars"}, "transform": [{"filter": "datum.c == 4 && datum.m == 0 && datum.lab == '*'"}], "mark": {"type": "text", "fontSize": 10, "baseline": "alphabetic", "dy": 2, "dx": 4}, "encoding": {"y": {"field": "v", "type": "quantitative", "title": "1X10⁴ CFU"}, "text": {"field": "lab"}}}
      ]
     }
    ]
   },
   {
    "width": 138, "height": 170,
    "layer": [
     {
      "encoding": {
       "x": {"field": "s", "type": "nominal", "sort": ["H99","crm1Δ","cdc50Δ","crm1Δ cdc50Δ"], "scale": {"paddingInner": 0.36, "paddingOuter": 0.15}, "axis": {"title": null, "ticks": false, "labelAngle": 0, "labelFontSize": 9.5, "labelPadding": 3, "labelLineHeight": 13.5, "labelExpr": "datum.value == 'crm1Δ cdc50Δ' ? ['crm1Δ', 'cdc50Δ'] : datum.value", "labelFontStyle": {"condition": {"test": "datum.value == 'H99'", "value": "normal"}, "value": "italic"}}},
       "xOffset": {"field": "t", "type": "nominal", "sort": ["0h","1h","3h"]}
      },
      "layer": [
       {"data": {"name": "bars"}, "transform": [{"filter": "datum.c == 4 && datum.m == 5"}], "mark": {"type": "bar", "strokeWidth": 1}, "encoding": {"y": {"field": "v", "type": "quantitative", "scale": {"domain": [0,12]}, "axis": {"values": [0,4,8,12], "title": "1X10⁴ CFU", "minExtent": 17, "maxExtent": 17, "titlePadding": 2, "tickSize": 4}}, "fill": {"field": "t", "type": "nominal", "scale": {"domain": ["0h","1h","3h"], "range": ["#ffffff","#7f7f7f","#000000"]}, "legend": null}, "stroke": {"field": "t", "type": "nominal", "scale": {"domain": ["0h","1h","3h"], "range": ["#555555","#7f7f7f","#000000"]}, "legend": null}}},
       {"data": {"name": "bars"}, "transform": [{"filter": "datum.c == 4 && datum.m == 5 && isValid(datum.lo)"}], "mark": {"type": "rule", "color": "#000"}, "encoding": {"y": {"field": "lo", "type": "quantitative", "title": "1X10⁴ CFU"}, "y2": {"field": "hi"}}},
       {"data": {"name": "bars"}, "transform": [{"filter": "datum.c == 4 && datum.m == 5 && isValid(datum.lo)"}], "mark": {"type": "tick", "color": "#000", "size": 5, "thickness": 1}, "encoding": {"y": {"field": "lo", "type": "quantitative", "title": "1X10⁴ CFU"}}},
       {"data": {"name": "bars"}, "transform": [{"filter": "datum.c == 4 && datum.m == 5 && isValid(datum.lo)"}], "mark": {"type": "tick", "color": "#000", "size": 5, "thickness": 1}, "encoding": {"y": {"field": "hi", "type": "quantitative", "title": "1X10⁴ CFU"}}},
       {"data": {"name": "brackets"}, "transform": [{"filter": "datum.c == 4 && datum.m == 5"}], "mark": {"type": "line", "color": "#000", "strokeWidth": 1}, "encoding": {"y": {"field": "v", "type": "quantitative", "title": "1X10⁴ CFU"}, "detail": {"field": "b"}, "order": {"field": "o"}}},
       {"data": {"name": "stars"}, "transform": [{"filter": "datum.c == 4 && datum.m == 5 && datum.lab == '**'"}], "mark": {"type": "text", "fontSize": 10, "baseline": "alphabetic", "dy": 2}, "encoding": {"y": {"field": "v", "type": "quantitative", "title": "1X10⁴ CFU"}, "text": {"field": "lab"}}}
      ]
     }
    ]
   }
  ],
  "spacing": 79,
  "bounds": "flush",
  "resolve": {"scale": {"x": "independent", "y": "independent", "color": "independent", "shape": "independent", "fill": "independent", "stroke": "independent"}, "legend": {"color": "independent", "shape": "independent", "fill": "independent", "stroke": "independent"}}
 },
 {
  "hconcat": [
   {
    "width": 177, "height": 157,
    "title": {"text": "C", "subtitle": "\u200b\u00a0\u00a0\u00a0\u00a0\u00a0\u00a0\u00a0YPD + 16 μg/ml CAS", "anchor": "start", "fontSize": 20, "fontWeight": "bold", "subtitleFontSize": 13.5, "subtitleColor": "#000", "subtitlePadding": -18, "offset": -1, "dx": -4},
    "data": {"name": "lines"},
    "transform": [{"filter": "datum.c == 16"}],
    "encoding": {
     "x": {"field": "h", "type": "quantitative", "scale": {"domain": [0,21,33], "range": [0,66,196], "nice": false, "zero": false}, "axis": {"values": [0,21,24,27,30,33], "title": "Hours", "titleFontSize": 12.5, "titlePadding": 2, "labelFontSize": 11.5}},
     "y": {"field": "v", "type": "quantitative", "scale": {"domain": [0,4.15]}, "axis": {"values": [0,2,4], "title": "OD600", "titleFontSize": 12.5, "labelFontSize": 11.5, "minExtent": 12, "maxExtent": 12, "titlePadding": 9.5}}
    },
    "layer": [
     {"mark": {"type": "line", "strokeWidth": 1.4}, "encoding": {"color": {"field": "s", "type": "nominal", "scale": {"domain": ["H99","H99+CaCl₂","crm1Δ","crm1Δ+CaCl₂","cdc50Δ","cdc50Δ+CaCl₂","crm1Δ cdc50Δ","crm1Δ cdc50Δ+CaCl₂"], "range": ["#000000","#c8c8c8","#1b1b9e","#5aa2ea","#c81414","#f03cf0","#1e7d1e","#62e862"]}, "legend": {"title": null, "orient": "none", "legendX": 0, "legendY": 2, "labelFontSize": 9.5, "symbolSize": 25, "rowPadding": 2.3, "labelOffset": 5, "labelFontStyle": {"expr": "indexof(datum.label, 'Δ') >= 0 ? 'italic' : 'normal'"}}}}},
     {"mark": {"type": "point", "filled": true, "size": 22, "opacity": 1}, "encoding": {"color": {"field": "s", "type": "nominal", "scale": {"domain": ["H99","H99+CaCl₂","crm1Δ","crm1Δ+CaCl₂","cdc50Δ","cdc50Δ+CaCl₂","crm1Δ cdc50Δ","crm1Δ cdc50Δ+CaCl₂"], "range": ["#000000","#c8c8c8","#1b1b9e","#5aa2ea","#c81414","#f03cf0","#1e7d1e","#62e862"]}, "legend": {"title": null, "orient": "none", "legendX": 0, "legendY": 2, "labelFontSize": 9.5, "symbolSize": 25, "rowPadding": 2.3, "labelOffset": 5, "labelFontStyle": {"expr": "indexof(datum.label, 'Δ') >= 0 ? 'italic' : 'normal'"}}}, "shape": {"field": "s", "type": "nominal", "scale": {"domain": ["H99","H99+CaCl₂","crm1Δ","crm1Δ+CaCl₂","cdc50Δ","cdc50Δ+CaCl₂","crm1Δ cdc50Δ","crm1Δ cdc50Δ+CaCl₂"], "range": ["circle","circle","square","square","triangle-up","triangle-up","diamond","diamond"]}, "legend": {"title": null, "orient": "none", "legendX": 0, "legendY": 2, "labelFontSize": 9.5, "symbolSize": 25, "rowPadding": 2.3, "labelOffset": 5, "labelFontStyle": {"expr": "indexof(datum.label, 'Δ') >= 0 ? 'italic' : 'normal'"}}}}},
     {"transform": [{"filter": "isValid(datum.lo)"}], "mark": {"type": "rule", "color": "#000"}, "encoding": {"y": {"field": "lo", "type": "quantitative", "title": "OD600"}, "y2": {"field": "hi"}}},
     {"transform": [{"filter": "isValid(datum.lo)"}], "mark": {"type": "tick", "orient": "horizontal", "color": "#000", "size": 5, "thickness": 1}, "encoding": {"y": {"field": "lo", "type": "quantitative", "title": "OD600"}}},
     {"transform": [{"filter": "isValid(datum.lo)"}], "mark": {"type": "tick", "orient": "horizontal", "color": "#000", "size": 5, "thickness": 1}, "encoding": {"y": {"field": "hi", "type": "quantitative", "title": "OD600"}}}
    ]
   },
   {
    "width": 138, "height": 171,
    "layer": [
     {
      "encoding": {
       "x": {"field": "s", "type": "nominal", "sort": ["H99","crm1Δ","cdc50Δ","crm1Δ cdc50Δ"], "scale": {"paddingInner": 0.36, "paddingOuter": 0.15}, "axis": {"title": null, "ticks": false, "labelAngle": 0, "labelFontSize": 9.5, "labelPadding": 2, "labelLineHeight": 10.5, "labelExpr": "datum.value == 'crm1Δ cdc50Δ' ? ['crm1Δ', 'cdc50Δ'] : datum.value", "labelFontStyle": {"condition": {"test": "datum.value == 'H99'", "value": "normal"}, "value": "italic"}}},
       "xOffset": {"field": "t", "type": "nominal", "sort": ["0h","1h","3h"]}
      },
      "layer": [
       {"data": {"name": "bars"}, "transform": [{"filter": "datum.c == 16 && datum.m == 0"}], "mark": {"type": "bar", "strokeWidth": 1}, "encoding": {"y": {"field": "v", "type": "quantitative", "scale": {"domain": [0,8]}, "axis": {"values": [0,4,8], "title": "1X10⁴ CFU", "minExtent": 17, "maxExtent": 17, "titlePadding": 2, "tickSize": 4}}, "fill": {"field": "t", "type": "nominal", "scale": {"domain": ["0h","1h","3h"], "range": ["#ffffff","#7f7f7f","#000000"]}, "legend": null}, "stroke": {"field": "t", "type": "nominal", "scale": {"domain": ["0h","1h","3h"], "range": ["#555555","#7f7f7f","#000000"]}, "legend": null}}},
       {"data": {"name": "bars"}, "transform": [{"filter": "datum.c == 16 && datum.m == 0 && isValid(datum.lo)"}], "mark": {"type": "rule", "color": "#000"}, "encoding": {"y": {"field": "lo", "type": "quantitative", "title": "1X10⁴ CFU"}, "y2": {"field": "hi"}}},
       {"data": {"name": "bars"}, "transform": [{"filter": "datum.c == 16 && datum.m == 0 && isValid(datum.lo)"}], "mark": {"type": "tick", "color": "#000", "size": 5, "thickness": 1}, "encoding": {"y": {"field": "lo", "type": "quantitative", "title": "1X10⁴ CFU"}}},
       {"data": {"name": "bars"}, "transform": [{"filter": "datum.c == 16 && datum.m == 0 && isValid(datum.lo)"}], "mark": {"type": "tick", "color": "#000", "size": 5, "thickness": 1}, "encoding": {"y": {"field": "hi", "type": "quantitative", "title": "1X10⁴ CFU"}}},
       {"data": {"name": "brackets"}, "transform": [{"filter": "datum.c == 16 && datum.m == 0"}], "mark": {"type": "line", "color": "#000", "strokeWidth": 1}, "encoding": {"y": {"field": "v", "type": "quantitative", "title": "1X10⁴ CFU"}, "detail": {"field": "b"}, "order": {"field": "o"}}},
       {"data": {"name": "stars"}, "transform": [{"filter": "datum.c == 16 && datum.m == 0 && datum.lab == '**'"}], "mark": {"type": "text", "fontSize": 10, "baseline": "alphabetic", "dy": 2}, "encoding": {"y": {"field": "v", "type": "quantitative", "title": "1X10⁴ CFU"}, "text": {"field": "lab"}}}
      ]
     }
    ]
   },
   {
    "width": 138, "height": 171,
    "layer": [
     {
      "encoding": {
       "x": {"field": "s", "type": "nominal", "sort": ["H99","crm1Δ","cdc50Δ","crm1Δ cdc50Δ"], "scale": {"paddingInner": 0.36, "paddingOuter": 0.15}, "axis": {"title": null, "ticks": false, "labelAngle": 0, "labelFontSize": 9.5, "labelPadding": 2, "labelLineHeight": 10.5, "labelExpr": "datum.value == 'crm1Δ cdc50Δ' ? ['crm1Δ', 'cdc50Δ'] : datum.value", "labelFontStyle": {"condition": {"test": "datum.value == 'H99'", "value": "normal"}, "value": "italic"}}},
       "xOffset": {"field": "t", "type": "nominal", "sort": ["0h","1h","3h"]}
      },
      "layer": [
       {"data": {"name": "bars"}, "transform": [{"filter": "datum.c == 16 && datum.m == 5"}], "mark": {"type": "bar", "strokeWidth": 1}, "encoding": {"y": {"field": "v", "type": "quantitative", "scale": {"domain": [0,12]}, "axis": {"values": [0,4,8,12], "title": "1X10⁴ CFU", "minExtent": 17, "maxExtent": 17, "titlePadding": 2, "tickSize": 4}}, "fill": {"field": "t", "type": "nominal", "scale": {"domain": ["0h","1h","3h"], "range": ["#ffffff","#7f7f7f","#000000"]}, "legend": null}, "stroke": {"field": "t", "type": "nominal", "scale": {"domain": ["0h","1h","3h"], "range": ["#555555","#7f7f7f","#000000"]}, "legend": null}}},
       {"data": {"name": "bars"}, "transform": [{"filter": "datum.c == 16 && datum.m == 5 && isValid(datum.lo)"}], "mark": {"type": "rule", "color": "#000"}, "encoding": {"y": {"field": "lo", "type": "quantitative", "title": "1X10⁴ CFU"}, "y2": {"field": "hi"}}},
       {"data": {"name": "bars"}, "transform": [{"filter": "datum.c == 16 && datum.m == 5 && isValid(datum.lo)"}], "mark": {"type": "tick", "color": "#000", "size": 5, "thickness": 1}, "encoding": {"y": {"field": "lo", "type": "quantitative", "title": "1X10⁴ CFU"}}},
       {"data": {"name": "bars"}, "transform": [{"filter": "datum.c == 16 && datum.m == 5 && isValid(datum.lo)"}], "mark": {"type": "tick", "color": "#000", "size": 5, "thickness": 1}, "encoding": {"y": {"field": "hi", "type": "quantitative", "title": "1X10⁴ CFU"}}},
       {"data": {"name": "brackets"}, "transform": [{"filter": "datum.c == 16 && datum.m == 5"}], "mark": {"type": "line", "color": "#000", "strokeWidth": 1}, "encoding": {"y": {"field": "v", "type": "quantitative", "title": "1X10⁴ CFU"}, "detail": {"field": "b"}, "order": {"field": "o"}}},
       {"data": {"name": "stars"}, "transform": [{"filter": "datum.c == 16 && datum.m == 5 && datum.lab == '**'"}], "mark": {"type": "text", "fontSize": 10, "baseline": "alphabetic", "dy": 2}, "encoding": {"y": {"field": "v", "type": "quantitative", "title": "1X10⁴ CFU"}, "text": {"field": "lab"}}},
       {"data": {"name": "stars"}, "transform": [{"filter": "datum.c == 16 && datum.m == 5 && datum.lab == '*'"}], "mark": {"type": "text", "fontSize": 10, "baseline": "alphabetic", "dy": 2, "dx": 4}, "encoding": {"y": {"field": "v", "type": "quantitative", "title": "1X10⁴ CFU"}, "text": {"field": "lab"}}}
      ]
     }
    ]
   }
  ],
  "spacing": 79,
  "bounds": "flush",
  "resolve": {"scale": {"x": "independent", "y": "independent", "color": "independent", "shape": "independent", "fill": "independent", "stroke": "independent"}, "legend": {"color": "independent", "shape": "independent", "fill": "independent", "stroke": "independent"}}
 }
 ]
 }
]
}
